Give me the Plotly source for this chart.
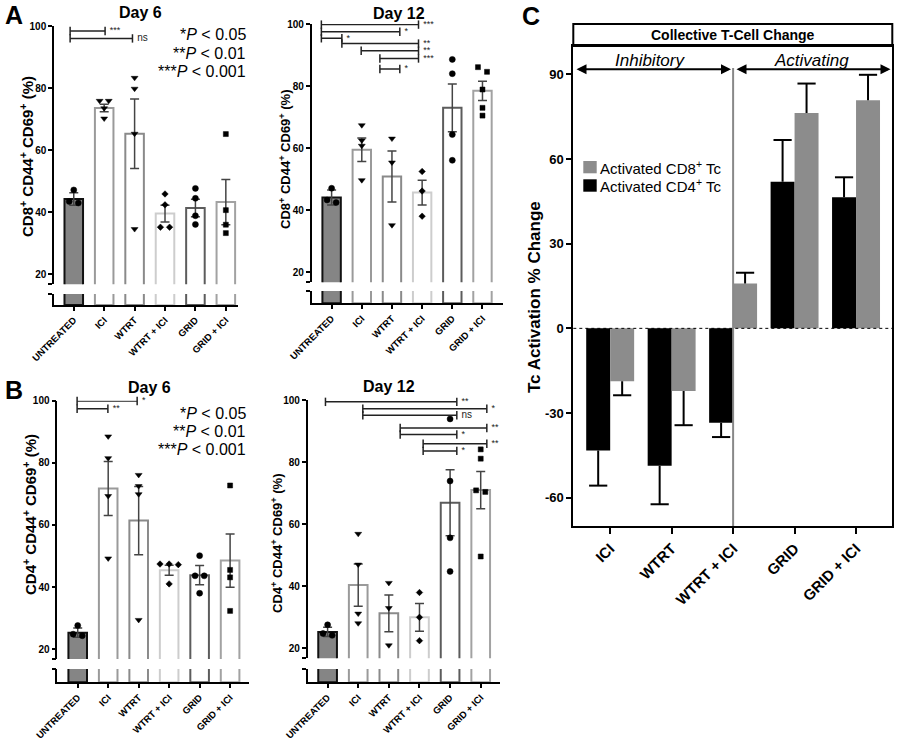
import plotly.graph_objects as go

# ---------------- data ----------------
CATS = ["UNTREATED", "ICI", "WTRT", "WTRT + ICI", "GRID", "GRID + ICI"]

A6_MEAN = [44.3, 73.6, 65.3, 39.6, 41.4, 43.3]
A6_SEM = [2.0, 1.2, 11.2, 2.7, 2.8, 7.3]
A6_PTS = [[47.2, 43.0, 43.5], [75.9, 75.9, 73.5, 70.2], [83.3, 79.8, 65.3, 34.6],
          [45.9, 42.4, 35.2, 35.2], [47.7, 44.5, 38.9, 36.1], [65.2, 40.7, 36.0, 33.3]]
A6_SIG = [(-0.12, 1.03, 98.4, "***"), (-0.12, 1.93, 96.0, "ns")]

A12_MEAN = [44.1, 59.5, 50.9, 45.7, 73.0, 78.5]
A12_SEM = [2.4, 3.8, 8.2, 4.0, 7.7, 3.1]
A12_PTS = [[47.1, 42.5, 43.3], [67.4, 62.5, 60.8, 49.7], [63.1, 55.4, 35.2],
           [52.5, 46.2, 38.1], [88.6, 84.0, 64.4, 56.1], [86.1, 84.6, 78.9, 73.0, 70.5]]
A12_SIG = [(-0.34, 2.88, 99.8, "***"), (-0.34, 2.26, 97.5, "*"), (-0.34, 0.34, 95.4, "*"),
           (0.34, 2.88, 93.7, "**"), (0.98, 2.88, 91.4, "**"), (1.6, 2.88, 88.9, "***"),
           (1.6, 2.26, 85.5, "*")]

B6_MEAN = [25.3, 71.7, 61.4, 45.4, 43.8, 48.5]
B6_SEM = [1.5, 8.7, 11.0, 1.6, 3.1, 8.6]
B6_PTS = [[27.6, 24.3, 24.8], [88.5, 81.5, 69.3, 49.2], [76.1, 72.5, 69.9, 29.4],
          [47.4, 47.2, 47.4, 41.0], [50.1, 43.6, 43.6, 38.0], [72.7, 45.5, 43.1, 32.3]]
B6_SIG = [(-0.02, 1.95, 99.9, "*"), (-0.02, 0.99, 97.4, "**")]

B12_MEAN = [25.3, 40.4, 31.3, 30.0, 66.9, 71.0]
B12_SEM = [1.5, 6.8, 5.9, 4.5, 10.6, 6.0]
B12_PTS = [[27.6, 24.2, 24.8], [56.9, 47.0, 31.2, 28.1], [41.1, 33.0, 21.0],
           [38.0, 30.0, 22.5], [93.9, 73.9, 55.6, 44.8], [84.1, 81.1, 70.9, 70.4, 49.6]]
B12_SIG = [(-0.07, 5.2, 101.4, "*"), (-0.07, 4.22, 99.4, "**"), (1.15, 5.2, 97.2, "*"),
           (1.15, 4.22, 95.1, "ns"), (2.37, 5.2, 91.0, "**"), (2.37, 4.22, 88.9, "*"),
           (3.12, 5.2, 85.9, "**"), (3.12, 4.22, 83.6, "*")]

Y_TICKS = [20, 40, 60, 80, 100]

C_CATS = ["ICI", "WTRT", "WTRT + ICI", "GRID", "GRID + ICI"]
C_CD4 = [-43.3, -48.7, -33.4, 51.9, 46.4]
C_CD4_ERR = [12.4, 13.6, 5.1, 14.8, 7.1]
C_CD8 = [-18.7, -22.2, 15.9, 76.3, 80.8]
C_CD8_ERR = [5.0, 12.1, 3.8, 10.4, 9.0]
C_TICKS = [-60, -30, 0, 30, 60, 90]

# ---------------- styling helpers ----------------
W, H = 900, 740
FONT = "Liberation Sans, Arial, sans-serif"


def px(x):
    return x / W


def py(y):
    return 1 - y / H


FILL = ["#858585", "white", "white", "white", "white", "white"]
EDGE = ["#111111", "#9a9a9a", "#8a8a8a", "#cdcdcd", "#5c5c5c", "#a2a2a2"]
SYMS = ["circle", "triangle-down", "triangle-down", "diamond", "circle", "square"]
SIZES = [6, 6, 6, 5, 6, 5]
Y_LO = 16.8
PXU = 3.105


def jitter(vals, thresh=1.6, step=0.3):
    order = sorted(range(len(vals)), key=lambda i: -vals[i])
    offs = [0.0] * len(vals)
    clusters = []
    for i in order:
        if clusters and abs(vals[clusters[-1][-1]] - vals[i]) < thresh:
            clusters[-1].append(i)
        else:
            clusters.append([i])
    for c in clusters:
        n = len(c)
        for j, i in enumerate(c):
            offs[i] = (j - (n - 1) / 2) * step
    return offs


PANELS = [
    dict(mean=A6_MEAN, sem=A6_SEM, pts=A6_PTS, sig=A6_SIG, xdom=(54, 238), top=26,
         lower=(294, 305), xr=(-0.65, 5.4)),
    dict(mean=A12_MEAN, sem=A12_SEM, pts=A12_PTS, sig=A12_SIG, xdom=(311.7, 503), top=24,
         lower=(291, 303.3), xr=(-0.66, 5.68)),
    dict(mean=B6_MEAN, sem=B6_SEM, pts=B6_PTS, sig=B6_SIG, xdom=(57.3, 249.3), top=400.7,
         lower=(669, 682.3), xr=(-0.67, 5.63)),
    dict(mean=B12_MEAN, sem=B12_SEM, pts=B12_PTS, sig=B12_SIG, xdom=(307.7, 500), top=400,
         lower=(669, 682.3), xr=(-0.65, 5.63)),
]

fig = go.Figure()
layout = dict(width=W, height=H,
              margin=dict(l=0, r=0, t=0, b=0, pad=0, autoexpand=False),
              plot_bgcolor="white", paper_bgcolor="white", barmode="overlay",
              showlegend=False, font=dict(family=FONT, color="black"))


def axkey(ref):
    return ("xaxis" if ref[0] == "x" else "yaxis") + ref[1:]


for k, P in enumerate(PANELS):
    xa = "x" if k == 0 else f"x{k + 1}"
    yu = "y" if k == 0 else f"y{2 * k + 1}"
    yl = f"y{2 * k + 2}"
    xs = list(range(len(CATS)))
    for yref, with_err in ((yu, True), (yl, False)):
        fig.add_trace(go.Bar(
            x=xs, y=P["mean"], xaxis=xa, yaxis=yref, width=0.61,
            marker=dict(color=FILL, line=dict(color=EDGE, width=2)),
            error_y=dict(type="data", array=P["sem"], color="#444444", thickness=1.5,
                         width=4.5, visible=with_err),
            hoverinfo="skip"))
    pxs, pys, sy, sz = [], [], [], []
    for i, vals in enumerate(P["pts"]):
        for v, o in zip(vals, jitter(vals)):
            pxs.append(i + o)
            pys.append(v)
            sy.append(SYMS[i])
            sz.append(SIZES[i])
    fig.add_trace(go.Scatter(x=pxs, y=pys, mode="markers", xaxis=xa, yaxis=yu,
                             marker=dict(symbol=sy, size=sz, color="#000000", opacity=1,
                                         line=dict(color="#000000", width=0.5)),
                             cliponaxis=False, hoverinfo="skip"))
    for (x0, x1, yv, lab) in P["sig"]:
        fig.add_trace(go.Scatter(
            x=[x0, x1], y=[yv, yv], mode="lines+markers+text", xaxis=xa, yaxis=yu,
            line=dict(color="#222222", width=1.5),
            marker=dict(symbol="line-ns", size=6, color="#222222",
                        line=dict(color="#222222", width=1.5)),
            text=[" ", lab], textposition="middle right",
            textfont=dict(size=10 if lab == "ns" else 9, color="#222222"),
            cliponaxis=False, hoverinfo="skip"))

    ybot = P["top"] + (100 - Y_LO) * PXU
    common_y = dict(anchor=xa, showline=True, linecolor="black", linewidth=1.5,
                    ticks="outside", ticklen=4, tickwidth=1.5, tickcolor="black",
                    showgrid=False, zeroline=False, automargin=False)
    layout[axkey(yu)] = dict(domain=[py(ybot), py(P["top"])], range=[Y_LO, 100],
                             tickvals=[Y_LO] + Y_TICKS,
                             ticktext=[""] + [str(t) for t in Y_TICKS],
                             tickfont=dict(size=10, weight="bold", family=FONT),
                             **common_y)
    layout[axkey(yl)] = dict(domain=[py(P["lower"][1]), py(P["lower"][0])], range=[0, 4],
                             tickvals=[4], ticktext=[""], **common_y)
    layout[axkey(xa)] = dict(domain=[px(P["xdom"][0]), px(P["xdom"][1])], range=list(P["xr"]),
                             anchor=yl, showline=True, linecolor="black", linewidth=2,
                             ticks="outside", ticklen=4, tickwidth=1.5, tickcolor="black",
                             tickvals=xs, ticktext=CATS, tickangle=-45,
                             tickfont=dict(size=9.5, weight="bold", family=FONT),
                             showgrid=False, zeroline=False, automargin=False)

# ---------------- panel C ----------------
BW = 0.39
cx = list(range(len(C_CATS)))
for vals, errs, color, off in ((C_CD4, C_CD4_ERR, "#000000", -BW), (C_CD8, C_CD8_ERR, "#8c8c8c", 0.0)):
    plus = [e if v >= 0 else 0 for v, e in zip(vals, errs)]
    minus = [e if v < 0 else 0 for v, e in zip(vals, errs)]
    tips = [v + e if v >= 0 else v - e for v, e in zip(vals, errs)]
    fig.add_trace(go.Bar(x=cx, y=vals, xaxis="x5", yaxis="y9", width=BW, offset=off,
                         marker=dict(color=color, line=dict(width=0)),
                         error_y=dict(type="data", symmetric=False, array=plus, arrayminus=minus,
                                      width=0, thickness=2, color="black"),
                         hoverinfo="skip"))
    fig.add_trace(go.Scatter(x=[c + off + BW / 2 for c in cx], y=tips, mode="markers",
                             xaxis="x5", yaxis="y9",
                             marker=dict(symbol="line-ew", size=13, color="black",
                                         line=dict(color="black", width=2)),
                             cliponaxis=False, hoverinfo="skip"))

layout["xaxis5"] = dict(domain=[px(573.3), px(892.3)], range=[-0.6, 4.59], anchor="y9",
                        showline=True, mirror=True, linecolor="black", linewidth=2,
                        ticks="outside", ticklen=6, tickwidth=2, tickcolor="black",
                        tickvals=cx, ticktext=C_CATS, tickangle=-45,
                        tickfont=dict(size=15, weight="bold", family=FONT),
                        showgrid=False, zeroline=False, automargin=False)
layout["yaxis9"] = dict(domain=[py(526), py(46)], range=[-70, 100], anchor="x5",
                        showline=True, mirror=True, linecolor="black", linewidth=2,
                        ticks="outside", ticklen=5, tickwidth=2, tickcolor="black",
                        tickvals=C_TICKS, ticktext=[str(t) for t in C_TICKS],
                        tickfont=dict(size=13, weight="bold", family=FONT),
                        showgrid=False, zeroline=False, automargin=False)

shapes = [
    # zero line (dotted)
    dict(type="line", xref="x5 domain", yref="y9", x0=0, x1=1, y0=0, y1=0,
         line=dict(color="black", width=1, dash="dot")),
    # divider between inhibitory / activating
    dict(type="line", xref="x5", yref="paper", x0=2, x1=2, y0=py(526), y1=py(68),
         line=dict(color="#888888", width=2)),
    # header box
    dict(type="rect", xref="paper", yref="paper", x0=px(573.3), x1=px(892.3),
         y0=py(46), y1=py(24), line=dict(color="black", width=2)),
    # legend swatches
    dict(type="rect", xref="paper", yref="paper", x0=px(583.3), x1=px(596.7),
         y0=py(173.3), y1=py(161), fillcolor="#8c8c8c", line=dict(width=0)),
    dict(type="rect", xref="paper", yref="paper", x0=px(583.3), x1=px(596.7),
         y0=py(191.7), y1=py(179.3), fillcolor="#000000", line=dict(width=0)),
]


def ann(x, y, text, size, bold=False, italic=False, xanchor="center", angle=0, color="black"):
    return dict(x=px(x), y=py(y), xref="paper", yref="paper", text=text, showarrow=False,
                xanchor=xanchor, yanchor="middle", textangle=angle,
                font=dict(size=size, family=FONT, color=color,
                          weight="bold" if bold else "normal",
                          style="italic" if italic else "normal"))


ytitle8 = "CD8<sup>+</sup> CD44<sup>+</sup> CD69<sup>+</sup> (%)"
ytitle4 = "CD4<sup>+</sup> CD44<sup>+</sup> CD69<sup>+</sup> (%)"
annotations = [
    ann(14, 15, "A", 25, bold=True),
    ann(14, 390, "B", 25, bold=True),
    ann(531, 16, "C", 25, bold=True),
    ann(140, 12, "Day 6", 16, bold=True),
    ann(399, 13, "Day 12", 16, bold=True),
    ann(149, 387, "Day 6", 16, bold=True),
    ann(389, 386, "Day 12", 16, bold=True),
    ann(27, 157, ytitle8, 15, bold=True, angle=-90),
    ann(285, 159, ytitle8, 13, bold=True, angle=-90),
    ann(29, 515, ytitle4, 15, bold=True, angle=-90),
    ann(277, 543, ytitle4, 13, bold=True, angle=-90),
    ann(534, 297, "Tc Activation % Change", 17, bold=True, angle=-90),
    ann(732.8, 35, "Collective T-Cell Change", 14, bold=True),
    ann(650, 60, "Inhibitory", 17, italic=True),
    ann(811, 60, "Activating", 17, italic=True),
    ann(598, 167.5, "Activated CD8<sup>+</sup> Tc", 15, xanchor="left"),
    ann(598, 185.5, "Activated CD4<sup>+</sup> Tc", 15, xanchor="left"),
]
for (ytop, xr) in ((35, 248), (413, 248)):
    for j, lab in enumerate(["*<i>P</i> &lt; 0.05", "**<i>P</i> &lt; 0.01", "***<i>P</i> &lt; 0.001"]):
        annotations.append(ann(xr, ytop + j * 18, lab, 16, xanchor="right"))

for (xh, xt) in ((731, 575), (890.5, 735)):
    annotations.append(dict(x=px(xh), y=py(69.3), xref="paper", yref="paper", text="",
                            ax=-(xh - xt), ay=0, axref="pixel", ayref="pixel",
                            showarrow=True, arrowside="end+start", arrowhead=2,
                            startarrowhead=2, arrowsize=1, startarrowsize=1,
                            arrowwidth=2, arrowcolor="black", standoff=0, startstandoff=0))

layout["shapes"] = shapes
layout["annotations"] = annotations
fig.update_layout(**layout)
fig.write_html(
    "out.html",
    config={"displayModeBar": False},
    post_script="document.body.style.margin='0';document.body.style.padding='0';"
                "document.documentElement.style.overflow='hidden';",
)
